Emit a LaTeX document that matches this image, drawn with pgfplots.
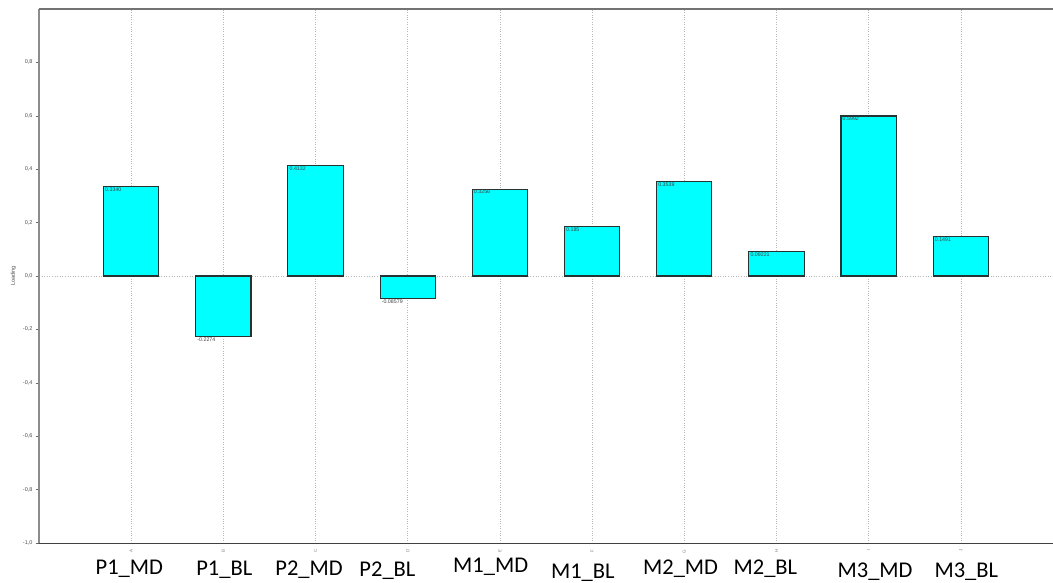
\documentclass[border=0pt]{standalone}
\usepackage{pgfplots}
\pgfplotsset{compat=1.18}
\usepackage{pgfplotstable}
\usepackage{fontspec}
\setmainfont{Liberation Sans}
\newfontfamily\calfont{Carlito}
\definecolor{barfill}{HTML}{00FFFF}
\definecolor{baredge}{HTML}{263333}
\definecolor{gridc}{HTML}{B8B8B8}
\pgfplotstableread{
x y lab
0 0.3340 0.3340
1 -0.2274 -0.2274
2 0.4132 0.4132
3 -0.08579 -0.08579
4 0.3256 0.3256
5 0.185 0.185
6 0.3539 0.3539
7 0.09221 0.09221
8 0.5992 0.5992
9 0.1491 0.1491
}\loadings
\begin{document}
\begin{tikzpicture}
\useasboundingbox (-39pt,-40pt) rectangle (1014pt,543pt);
\begin{axis}[
  scale only axis,
  width=1014pt, height=534pt,
  xmin=-1, xmax=10, ymin=-1, ymax=1,
  axis line style={draw=none},
  ybar, bar width=0.6,
  xtick={0,...,9},
  xtick pos=bottom, ytick pos=left,
  xticklabels={A,B,C,D,E,F,G,H,I,J},
  x tick label style={font=\fontsize{4.5}{4.5}\selectfont, text=gray, rotate=90, anchor=east},
  xtick style={draw=none},
  xmajorgrids,
  grid style={gridc, dotted, line width=0.6pt},
  ytick={-1,-0.8,-0.6,-0.4,-0.2,0,0.2,0.4,0.6,0.8},
  yticklabel style={font=\fontsize{5.5}{5.5}\selectfont, text=black!70, /pgf/number format/.cd, fixed, fixed zerofill, precision=1, use comma, assume math mode=true},
  ytick style={draw=black!60, line width=0.5pt},
  tick align=outside,
  major tick length=3pt,
  ylabel={Loading},
  ylabel style={font=\fontsize{5.5}{5.5}\selectfont, text=black!70, at={(ticklabel cs:0.5)}, anchor=south, xshift=0pt},
  clip=false,
  nodes near coords,
  point meta=explicit symbolic,
  every node near coord/.append style={font=\fontsize{5.3}{5.5}\selectfont, text=black!75, anchor=north west, xshift=-27.3pt, yshift=0.2pt, inner sep=0.8pt},
]
\draw[gridc, dotted, line width=0.6pt] (axis cs:-1,0) -- (axis cs:10,0);
\draw[black!45, line width=1.2pt] (axis cs:-1,-1) -- (axis cs:-1,1);
\draw[black!55, line width=1.1pt] (axis cs:-1,1) -- (axis cs:10,1);
\draw[black!75, line width=0.9pt] (axis cs:-1,-1) -- (axis cs:10,-1);
\addplot[fill=barfill, draw=baredge, line width=1.1pt] table[x=x, y=y, meta=lab] {\loadings};
\begin{scope}[font=\calfont\fontsize{22.5}{23}\selectfont]
\node at (axis cs:-0.02,-1) [yshift=-26pt] {P1\_MD};
\node at (axis cs:1.01,-1) [yshift=-27pt] {P1\_BL};
\node at (axis cs:1.93,-1) [yshift=-27pt] {P2\_MD};
\node at (axis cs:2.78,-1) [yshift=-28pt] {P2\_BL};
\node at (axis cs:3.9,-1) [yshift=-24pt] {M1\_MD};
\node at (axis cs:4.9,-1) [yshift=-30pt] {M1\_BL};
\node at (axis cs:5.96,-1) [yshift=-26pt] {M2\_MD};
\node at (axis cs:6.88,-1) [yshift=-26pt] {M2\_BL};
\node at (axis cs:8.07,-1) [yshift=-29pt] {M3\_MD};
\node at (axis cs:9.06,-1) [yshift=-29pt] {M3\_BL};
\end{scope}
\end{axis}
\end{tikzpicture}
\end{document}
